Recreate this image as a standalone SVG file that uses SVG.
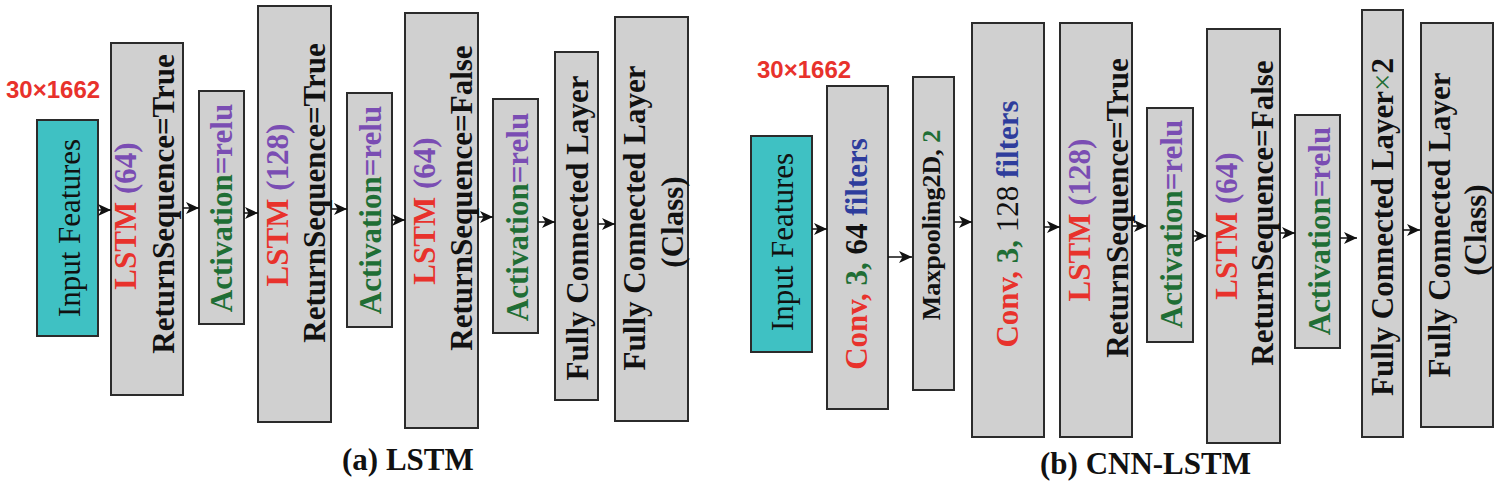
<svg xmlns="http://www.w3.org/2000/svg" width="1500" height="493" viewBox="0 0 1500 493">
<style>
.box{fill:#d0d0d0;stroke:#2b2b2b;stroke-width:2}
.inp{fill:#3fc1c3;stroke:#2b2b2b;stroke-width:2}
.t{font-family:"Liberation Serif","Times New Roman",serif;font-size:31px;font-weight:bold;fill:#111}
.tn{font-family:"Liberation Serif","Times New Roman",serif;font-size:31px;fill:#111}
.dim{font-family:"Liberation Sans",Arial,sans-serif;font-size:24px;font-weight:bold;fill:#e8322c}
.cap{font-family:"Liberation Serif","Times New Roman",serif;font-size:31px;font-weight:bold;fill:#111}
.r{fill:#e8322c}.p{fill:#7a4db3}.g{fill:#1f6e35}.b{fill:#2e3d9c}
.c{stroke:#111;stroke-width:1.5;fill:none}
</style>
<defs>
<marker id="ah" markerUnits="userSpaceOnUse" markerWidth="14" markerHeight="12" refX="13" refY="6" orient="auto">
<path d="M0,0 L13,6 L0,12 L3.5,6 z" fill="#111"/>
</marker>
</defs>

<!-- (a) LSTM -->
<text class="dim" x="6" y="98">30×1662</text>
<g id="a_input"><rect class="inp" x="37" y="120" width="61" height="216"/><text class="tn" transform="translate(80,228) rotate(-90)" text-anchor="middle">Input Features</text></g>
<g id="a_lstm64"><rect class="box" x="111" y="43" width="72" height="352"/><text class="t" transform="translate(136,216) rotate(-90)" text-anchor="middle"><tspan class="r">LSTM</tspan> <tspan class="p">(64)</tspan></text><text class="t" transform="translate(174,204) rotate(-90)" text-anchor="middle">ReturnSequence=True</text></g>
<g id="a_act1"><rect class="box" x="199" y="91" width="45" height="233"/><text class="t" transform="translate(232,208) rotate(-90)" text-anchor="middle"><tspan class="g">Activation</tspan><tspan class="p">=relu</tspan></text></g>
<g id="a_lstm128"><rect class="box" x="258" y="6" width="73" height="416"/><text class="t" transform="translate(288,205) rotate(-90)" text-anchor="middle"><tspan class="r">LSTM</tspan> <tspan class="p">(128)</tspan></text><text class="t" transform="translate(325,193) rotate(-90)" text-anchor="middle">ReturnSequence=True</text></g>
<g id="a_act2"><rect class="box" x="347" y="93" width="45" height="234"/><text class="t" transform="translate(381,210) rotate(-90)" text-anchor="middle"><tspan class="g">Activation</tspan><tspan class="p">=relu</tspan></text></g>
<g id="a_lstm64b"><rect class="box" x="405" y="13" width="73" height="415"/><text class="t" transform="translate(435,211) rotate(-90)" text-anchor="middle"><tspan class="r">LSTM</tspan> <tspan class="p">(64)</tspan></text><text class="t" transform="translate(472,198) rotate(-90)" text-anchor="middle">ReturnSequence=False</text></g>
<g id="a_act3"><rect class="box" x="493" y="99" width="45" height="234"/><text class="t" transform="translate(528,217) rotate(-90)" text-anchor="middle"><tspan class="g">Activation</tspan><tspan class="p">=relu</tspan></text></g>
<g id="a_fc"><rect class="box" x="555" y="52" width="43" height="348"/><text class="t" transform="translate(588,228) rotate(-90)" text-anchor="middle">Fully Connected Layer</text></g>
<g id="a_fcc"><rect class="box" x="615" y="17" width="73" height="404"/><text class="t" transform="translate(645,218) rotate(-90)" text-anchor="middle">Fully Connected Layer</text><text class="t" transform="translate(683,222) rotate(-90)" text-anchor="middle">(Class)</text></g>
<text class="cap" x="342" y="470">(a) LSTM</text>

<!-- (b) CNN-LSTM -->
<text class="dim" x="757" y="78">30×1662</text>
<g id="b_input"><rect class="inp" x="751" y="136" width="61" height="216"/><text class="tn" transform="translate(793,242) rotate(-90)" text-anchor="middle">Input Features</text></g>
<g id="b_conv1"><rect class="box" x="827" y="86" width="61" height="323"/><text class="t" transform="translate(867,254) rotate(-90)" text-anchor="middle"><tspan class="r">Conv,</tspan> <tspan class="g">3,</tspan> 64 <tspan class="b">filters</tspan></text></g>
<g id="b_pool"><rect class="box" x="913" y="77" width="41" height="313"/><text class="t" style="font-size:26px" transform="translate(940,225) rotate(-90)" text-anchor="middle">Maxpooling2D, <tspan class="g">2</tspan></text></g>
<g id="b_conv2"><rect class="box" x="972" y="23" width="72" height="414"/><text class="t" transform="translate(1018,224) rotate(-90)" text-anchor="middle"><tspan class="r">Conv,</tspan> <tspan class="g">3,</tspan> <tspan font-weight="normal">128</tspan> <tspan class="b">filters</tspan></text></g>
<g id="b_lstm128"><rect class="box" x="1060" y="23" width="72" height="414"/><text class="t" transform="translate(1090,220) rotate(-90)" text-anchor="middle"><tspan class="r">LSTM</tspan> <tspan class="p">(128)</tspan></text><text class="t" transform="translate(1128,208) rotate(-90)" text-anchor="middle">ReturnSequence=True</text></g>
<g id="b_act1"><rect class="box" x="1147" y="108" width="46" height="234"/><text class="t" transform="translate(1182,224) rotate(-90)" text-anchor="middle"><tspan class="g">Activation</tspan><tspan class="p">=relu</tspan></text></g>
<g id="b_lstm64"><rect class="box" x="1207" y="29" width="73" height="414"/><text class="t" transform="translate(1237,226) rotate(-90)" text-anchor="middle"><tspan class="r">LSTM</tspan> <tspan class="p">(64)</tspan></text><text class="t" transform="translate(1273,213) rotate(-90)" text-anchor="middle">ReturnSequence=False</text></g>
<g id="b_act2"><rect class="box" x="1295" y="115" width="45" height="233"/><text class="t" transform="translate(1330,231) rotate(-90)" text-anchor="middle"><tspan class="g">Activation</tspan><tspan class="p">=relu</tspan></text></g>
<g id="b_fc2"><rect class="box" x="1362" y="10" width="41" height="427"/><text class="t" transform="translate(1393,227) rotate(-90)" text-anchor="middle">Fully Connected Layer<tspan class="g" font-weight="normal">×</tspan>2</text></g>
<g id="b_fcc"><rect class="box" x="1421" y="23" width="72" height="404"/><text class="t" transform="translate(1450,225) rotate(-90)" text-anchor="middle">Fully Connected Layer</text><text class="t" transform="translate(1486,230) rotate(-90)" text-anchor="middle">(Class)</text></g>
<text class="cap" x="1040" y="474">(b) CNN-LSTM</text>

<g id="connectors">
<path class="c" marker-end="url(#ah)" d="M98,210 H111"/>
<path class="c" marker-end="url(#ah)" d="M183,208 H199"/>
<path class="c" marker-end="url(#ah)" d="M244,213 H258"/>
<path class="c" marker-end="url(#ah)" d="M331,209 H347"/>
<path class="c" marker-end="url(#ah)" d="M392,220 H405"/>
<path class="c" marker-end="url(#ah)" d="M478,217 H493"/>
<path class="c" marker-end="url(#ah)" d="M538,222 H555"/>
<path class="c" marker-end="url(#ah)" d="M598,224 H615"/>
<path class="c" marker-end="url(#ah)" d="M812,229 H827"/>
<path class="c" marker-end="url(#ah)" d="M888,257 H912"/>
<path class="c" marker-end="url(#ah)" d="M954,222 H972"/>
<path class="c" marker-end="url(#ah)" d="M1044,227 H1060"/>
<path class="c" marker-end="url(#ah)" d="M1132,226 H1147"/>
<path class="c" marker-end="url(#ah)" d="M1193,236 H1207"/>
<path class="c" marker-end="url(#ah)" d="M1280,233 H1295"/>
<path class="c" marker-end="url(#ah)" d="M1340,238 H1357"/>
<path class="c" marker-end="url(#ah)" d="M1403,230 H1420"/>
</g>
</svg>
